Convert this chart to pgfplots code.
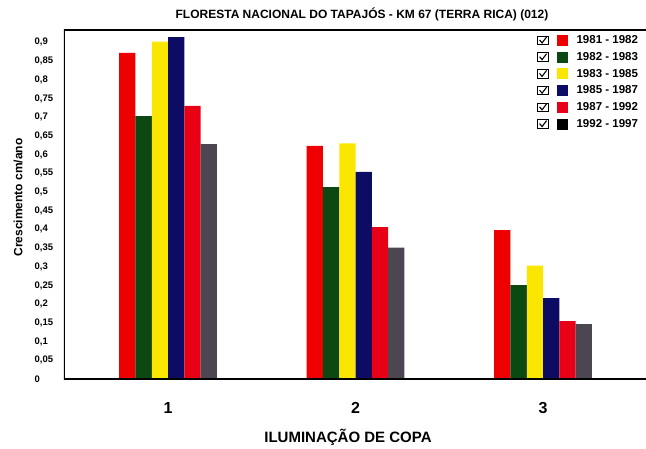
\documentclass[border=0pt]{standalone}
\usepackage{pgfplots}
\pgfplotsset{compat=1.18}
\usepackage{fontspec}
\setmainfont{Liberation Sans}
\definecolor{cRed}{RGB}{238,0,0}
\definecolor{cGreen}{RGB}{12,72,18}
\definecolor{cYellow}{RGB}{250,230,0}
\definecolor{cNavy}{RGB}{12,12,100}
\definecolor{cRedB}{RGB}{232,0,22}
\definecolor{cGray}{RGB}{75,70,82}
\begin{document}
\begin{tikzpicture}
\path[use as bounding box] (-64pt,-69pt) rectangle (582pt,379pt);
\begin{axis}[
  scale only axis,
  width=582pt, height=349pt,
  xmin=0.445, xmax=3.549,
  ymin=0, ymax=0.933,
  ybar=0pt, bar width=16.3pt,
  axis line style={draw=none},
  major tick length=0pt,
  xtick={1,2,3},
  xticklabels={1,2,3},
  xticklabel style={font=\fontsize{16}{18}\selectfont\bfseries, yshift=-20pt},
  ytick={0,0.05,0.1,0.15,0.2,0.25,0.3,0.35,0.4,0.45,0.5,0.55,0.6,0.65,0.7,0.75,0.8,0.85,0.9},
  yticklabels={0,{0,05},{0,1},{0,15},{0,2},{0,25},{0,3},{0,35},{0,4},{0,45},{0,5},{0,55},{0,6},{0,65},{0,7},{0,75},{0,8},{0,85},{0,9}},
  yticklabel style={font=\fontsize{9.5}{11}\selectfont\bfseries, anchor=west, inner sep=0pt, xshift=-29.5pt},
  title={FLORESTA NACIONAL DO TAPAJÓS - KM 67 (TERRA RICA) (012)},
  title style={font=\fontsize{12}{14}\selectfont\bfseries, at={(0.512,1)}, anchor=south, yshift=-1pt},
  ylabel={Crescimento cm/ano},
  every axis y label/.style={at={(axis description cs:-0.079,0.52)}, rotate=90, anchor=center, font=\fontsize{12}{14}\selectfont\bfseries},
  xlabel={ILUMINAÇÃO DE COPA},
  every axis x label/.style={at={(axis description cs:0.488,-0.168)}, anchor=center, font=\fontsize{15}{17}\selectfont\bfseries},
  legend style={at={(0.99,0.99)}, anchor=north east, draw=none, fill=none,
    font=\fontsize{11.5}{12}\selectfont\bfseries, row sep=3.2pt, inner sep=0pt,
    /tikz/every odd column/.append style={column sep=7pt}},
  legend cell align=left,
  legend image code/.code={
    \draw[black, fill=white, line width=0.7pt] (0pt,-4pt) rectangle (11pt,4.5pt);
    \draw[black, line width=1.1pt, fill=none] (2pt,0.5pt) -- (4.5pt,-2.5pt) -- (9pt,3.5pt);
    \fill[#1, draw=none] (19pt,-5.5pt) rectangle (30pt,5.5pt);
  },
]
\addplot[fill=cRed, draw=none] coordinates {(1,0.872) (2,0.623) (3,0.398)};
\addplot[fill=cGreen, draw=none] coordinates {(1,0.703) (2,0.513) (3,0.251)};
\addplot[fill=cYellow, draw=none] coordinates {(1,0.902) (2,0.630) (3,0.303)};
\addplot[fill=cNavy, draw=none] coordinates {(1,0.914) (2,0.554) (3,0.216)};
\addplot[fill=cRedB, draw=none] coordinates {(1,0.730) (2,0.406) (3,0.155)};
\addplot[fill=cGray, draw=none, legend image code/.code={
    \draw[black, fill=white, line width=0.7pt] (0pt,-4pt) rectangle (11pt,4.5pt);
    \draw[black, line width=1.1pt, fill=none] (2pt,0.5pt) -- (4.5pt,-2.5pt) -- (9pt,3.5pt);
    \fill[black] (19pt,-5.5pt) rectangle (30pt,5.5pt);
  }] coordinates {(1,0.628) (2,0.351) (3,0.147)};
\legend{1981 - 1982,1982 - 1983,1983 - 1985,1985 - 1987,1987 - 1992,1992 - 1997}
\draw[black, line width=1.6pt] (rel axis cs:1,0) -- (rel axis cs:0,0) -- (rel axis cs:0,1) -- (rel axis cs:1,1);
\end{axis}
\end{tikzpicture}
\end{document}
